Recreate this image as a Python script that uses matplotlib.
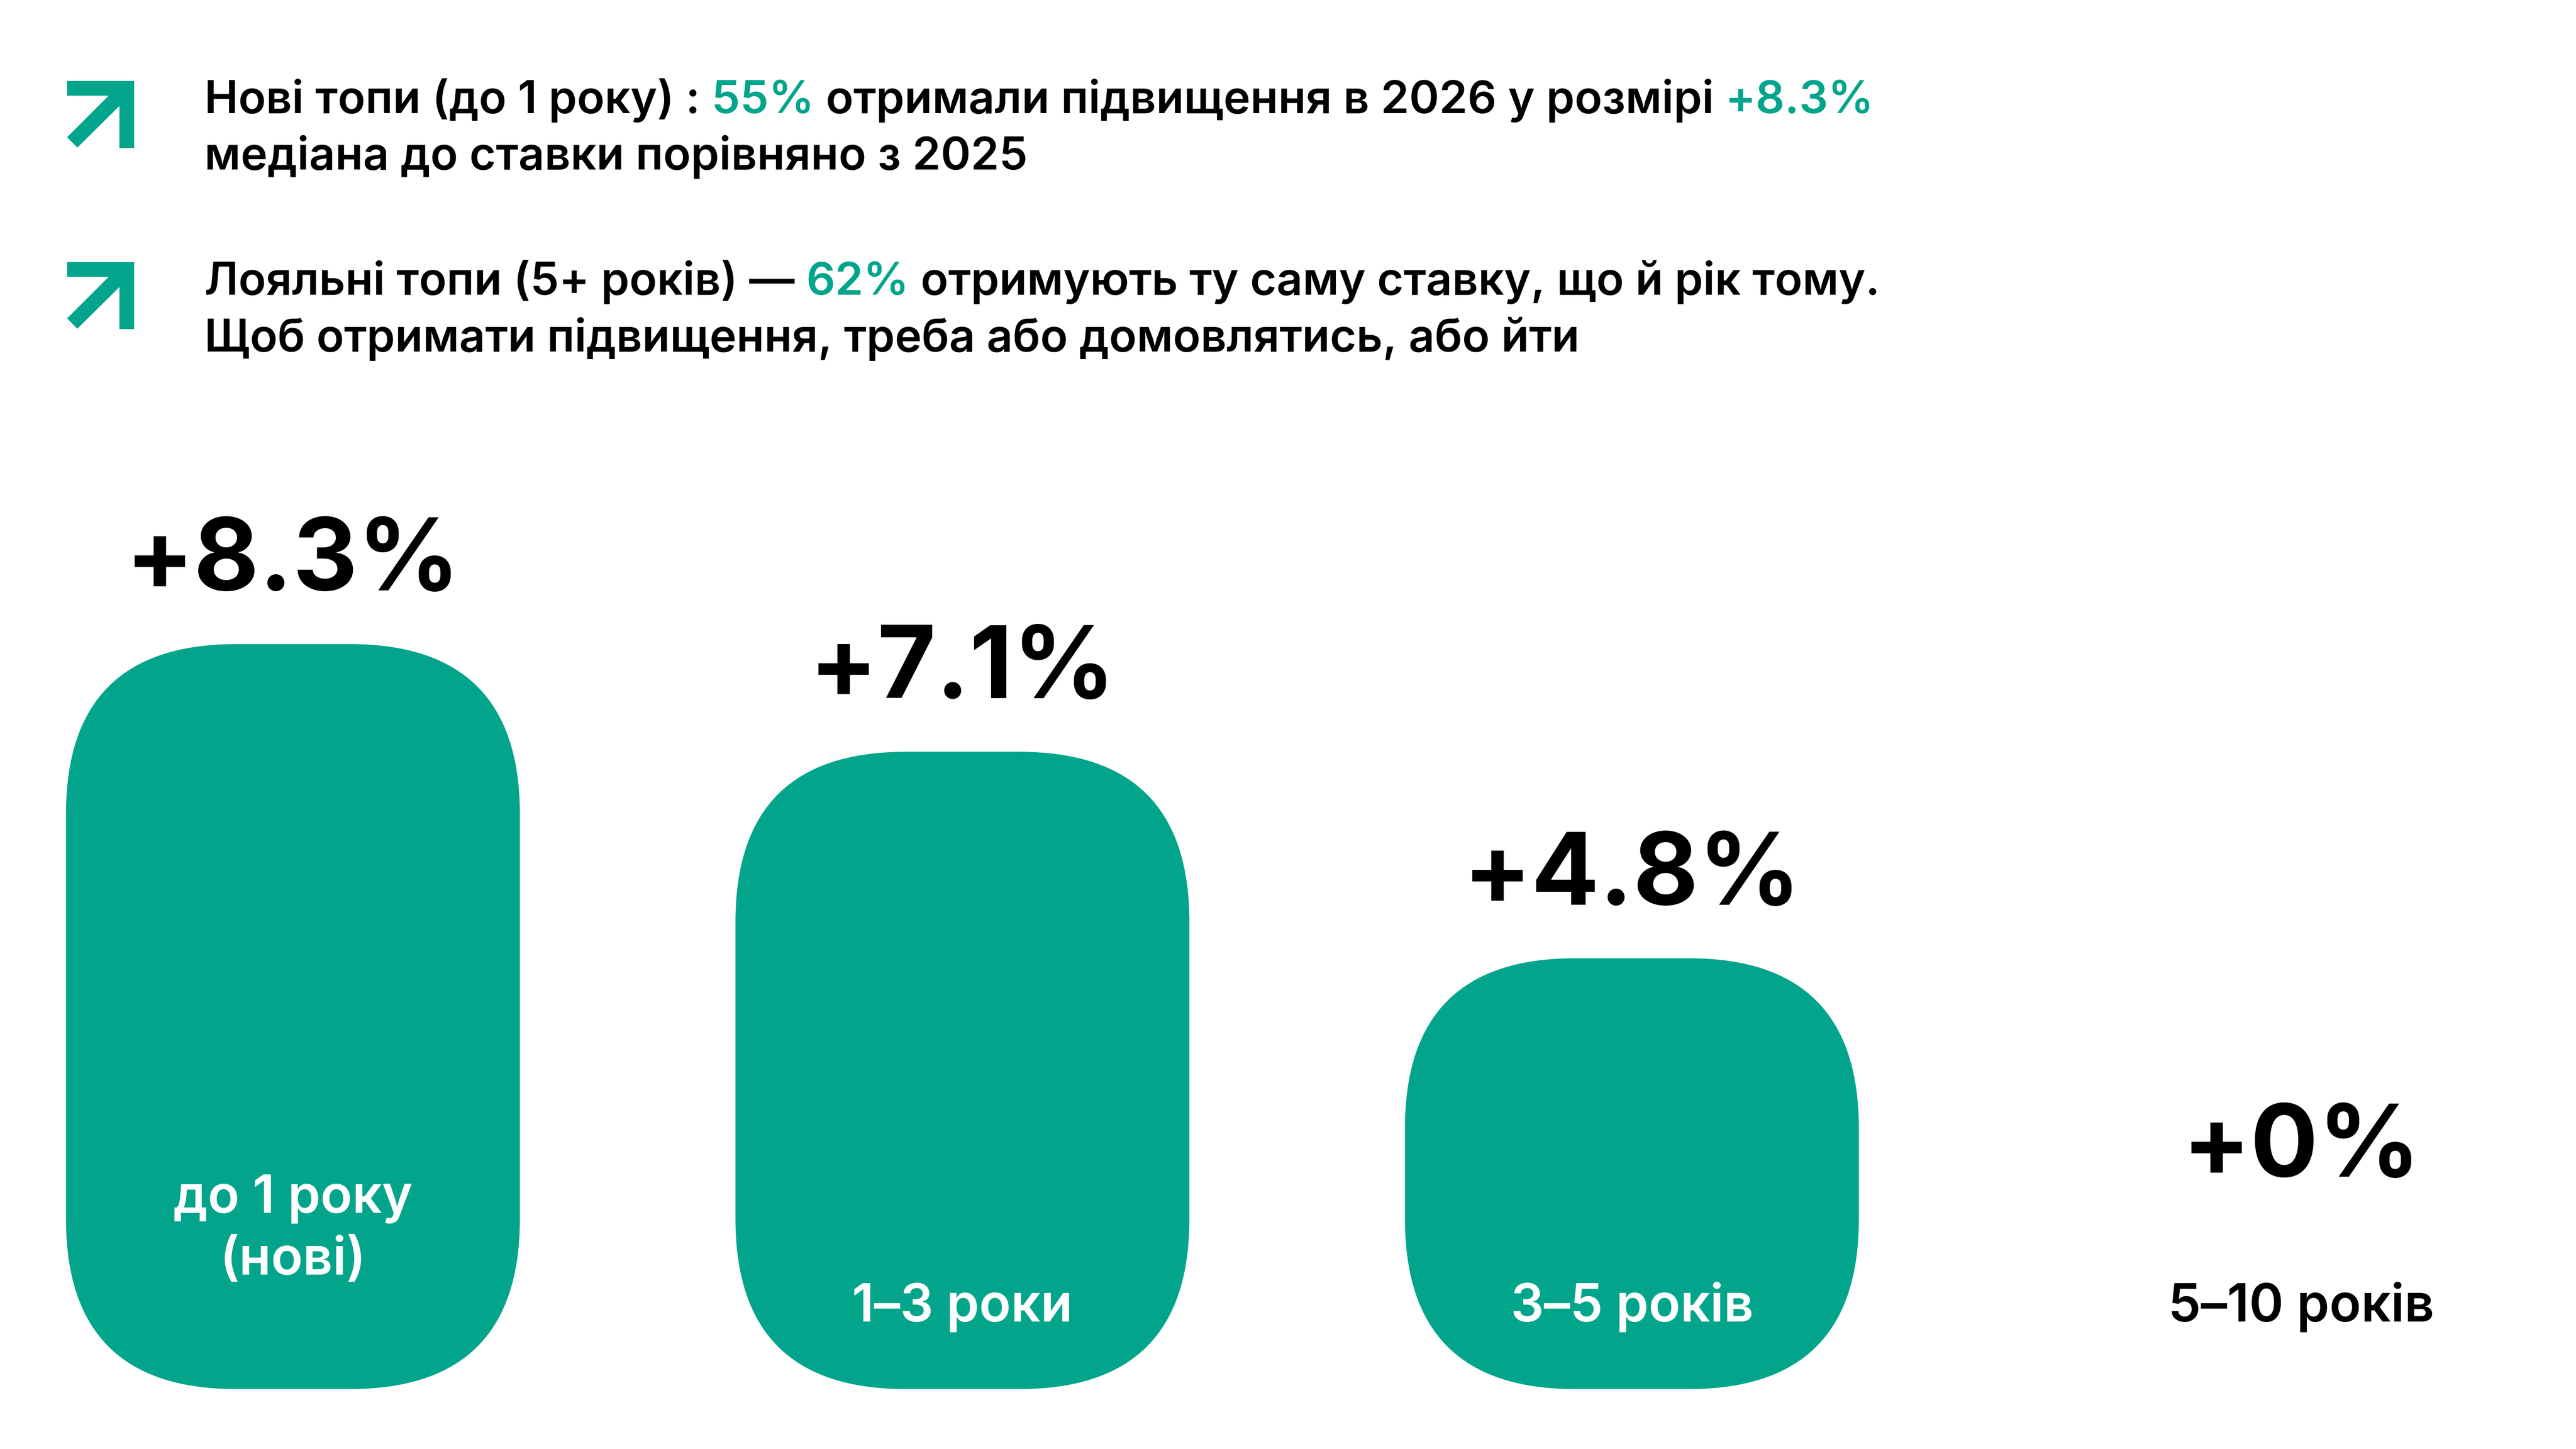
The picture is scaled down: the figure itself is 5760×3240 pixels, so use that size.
import matplotlib
matplotlib.use("Agg")
import matplotlib.pyplot as plt
from matplotlib.patches import FancyBboxPatch, Polygon

# дані
categories = ["до 1 року\n(нові)", "1–3 роки", "3–5 років", "5–10 років"]
raise_pct = [8.3, 7.1, 4.8, 0.0]
value_labels = ["+8.3%", "+7.1%", "+4.8%", "+0%"]

# підписи зверху: (текст, виділення зеленим)
note_1 = [
    [("Нові топи (до 1 року) : ", False), ("55%", True),
     (" отримали підвищення в 2026 у розмірі ", False), ("+8.3%", True)],
    [("медіана до ставки порівняно з 2025", False)],
]
note_2 = [
    [("Лояльні топи (5+ років) — ", False), ("62%", True),
     (" отримують ту саму ставку, що й рік тому.", False)],
    [("Щоб отримати підвищення, треба або домовлятись, або йти", False)],
]

GREEN = "#02A58B"
INK = "#000000"
W_PX, H_PX, DPI = 5760, 3240, 300

plt.rcParams["font.family"] = ["Inter", "DejaVu Sans"]

fig = plt.figure(figsize=(W_PX / DPI, H_PX / DPI), dpi=DPI)
fig.patch.set_facecolor("white")
renderer = fig.canvas.get_renderer()


def fx(x):
    return x / W_PX


def fy(y):
    return 1 - y / H_PX


# стрілка-іконка (у пікселях від лівого верхнього кута, 150x150)
arrow_shape = [(0, 0), (150, 0), (150, 150), (117, 150), (117, 56),
               (23, 149), (0, 126), (93, 33), (0, 33)]


def draw_arrow(x0, y0):
    pts = [(fx(x0 + dx), fy(y0 + dy)) for dx, dy in arrow_shape]
    fig.patches.append(Polygon(pts, closed=True, facecolor=GREEN,
                               edgecolor="none", transform=fig.transFigure))


def draw_rich(x_px, y_px, parts):
    x = x_px
    for txt, hl in parts:
        t = fig.text(fx(x), fy(y_px), txt, color=GREEN if hl else INK,
                     fontsize=24.4, fontweight="semibold", va="baseline", ha="left")
        x += t.get_window_extent(renderer=renderer).width


draw_arrow(150, 181)
draw_rich(457, 253, note_1[0])
draw_rich(457, 379, note_1[1])
draw_arrow(150, 586)
draw_rich(457, 659, note_2[0])
draw_rich(457, 786, note_2[1])

# графік
ax = fig.add_axes([0, 0, 1, 1])
ax.axis("off")
step_px = 1497
first_center_px = 655
px_per_pct = 200.7
base_px = H_PX - 3106
ax.set_xlim(-first_center_px / step_px, (W_PX - first_center_px) / step_px)
ax.set_ylim(-base_px / px_per_pct, (H_PX - base_px) / px_per_pct)

p0 = ax.transData.transform((0, 0))
p1 = ax.transData.transform((1, 1))
xpx, ypx = p1[0] - p0[0], p1[1] - p0[1]
radius_px = 380

bars = ax.bar(range(len(categories)), raise_pct, width=0.678, color=GREEN)
for rect in bars:
    x, y = rect.get_x(), rect.get_y()
    w, h = rect.get_width(), rect.get_height()
    rect.set_visible(False)
    if h <= 0:
        continue
    ax.add_patch(FancyBboxPatch(
        (x, y), w, h,
        boxstyle=f"round,pad=0,rounding_size={radius_px / xpx}",
        mutation_aspect=xpx / ypx,
        facecolor=GREEN, edgecolor="none"))

label_floor = 1.77  # щоб підпис для 0% не лягав на назву категорії
pt_per_px = 72 / DPI
for i, (v, lbl, cat) in enumerate(zip(raise_pct, value_labels, categories)):
    ax.annotate(lbl, xy=(i, max(v, label_floor)), xytext=(0, 120 * pt_per_px),
                textcoords="offset points", ha="center", va="baseline",
                fontsize=54, fontweight="bold", color=INK)
    n_lines = cat.count("\n")
    ax.annotate(cat, xy=(i, 0), xytext=(0, (151 + 105 * n_lines) * pt_per_px),
                textcoords="offset points", ha="center", va="baseline",
                fontsize=28, fontweight="semibold", linespacing=1.33,
                color="white" if v > 0 else INK)

fig.savefig("out.png", dpi=DPI, facecolor="white")
